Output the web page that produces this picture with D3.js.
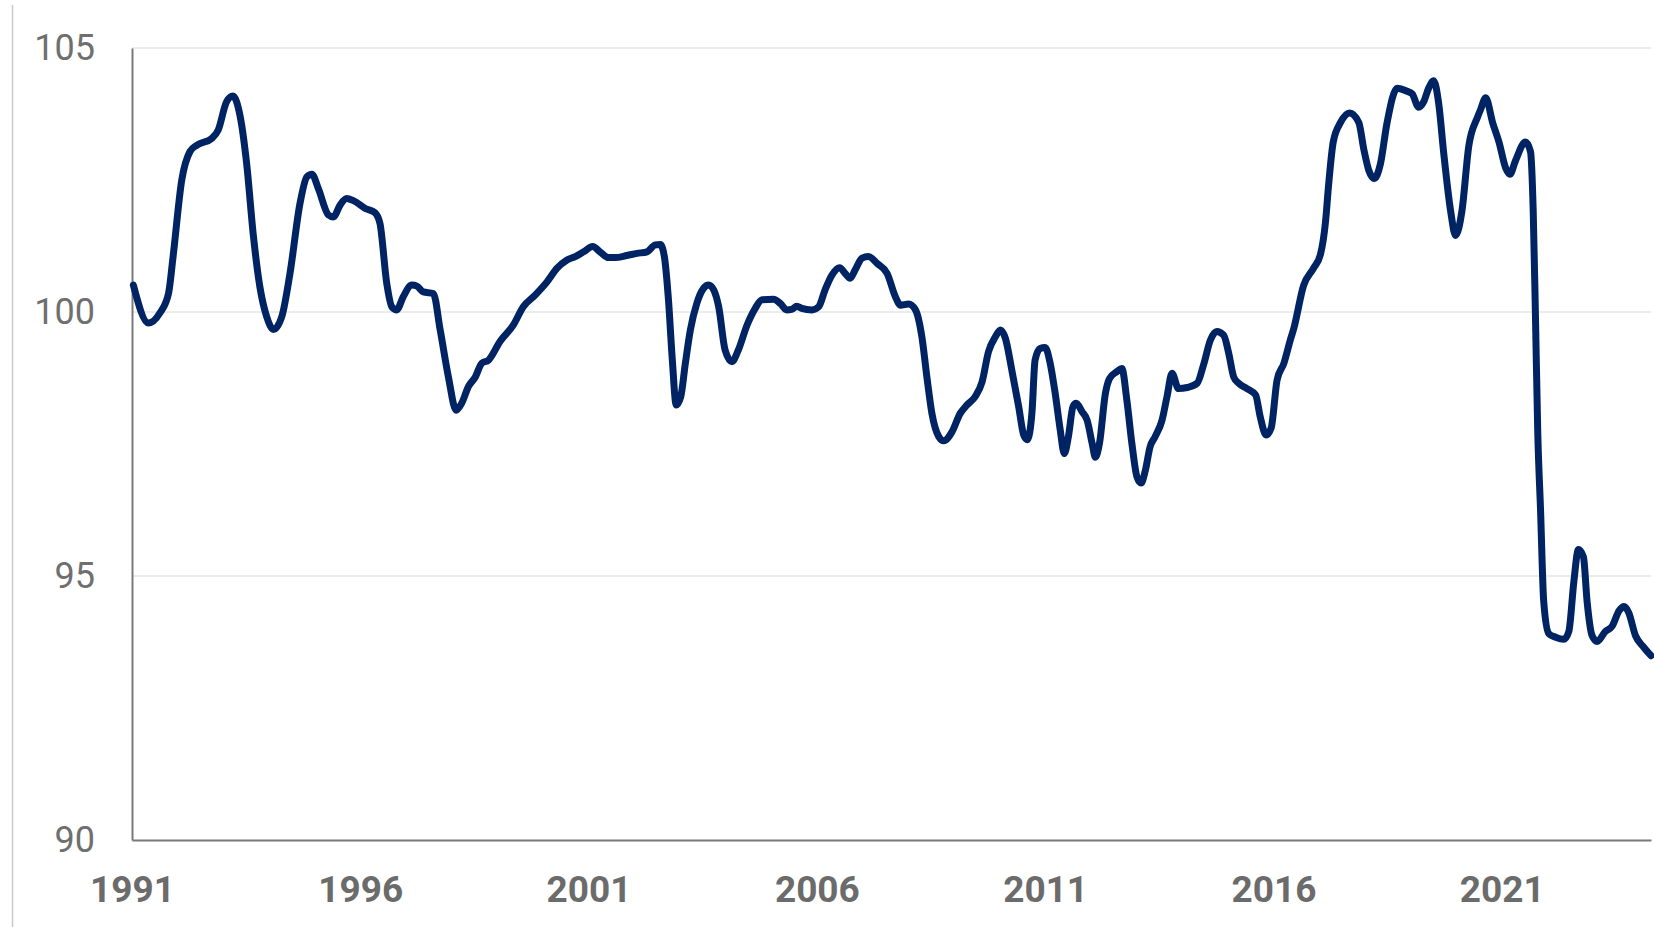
<!DOCTYPE html>
<html>
<head>
<meta charset="utf-8">
<script src="https://cdn.jsdelivr.net/npm/d3@7"></script>
<style>
  html, body { margin: 0; padding: 0; background: #fff; }
  svg { display: block; }
</style>
</head>
<body>
<div id="chart"></div>
<script>
// series (decimal year, index value)
const years = [
  1991.03, 1991.36, 1991.61, 1991.80, 1991.90, 1992.09, 1992.27, 1992.42, 1992.75, 1992.89,
  1993.07, 1993.21, 1993.37, 1993.51, 1993.66, 1993.80, 1993.95, 1994.10, 1994.28, 1994.46,
  1994.68, 1994.83, 1994.94, 1995.08, 1995.30, 1995.41, 1995.56, 1995.70, 1995.85, 1996.11,
  1996.32, 1996.43, 1996.58, 1996.69, 1996.80, 1996.94, 1997.13, 1997.24, 1997.38, 1997.60,
  1997.75, 1997.93, 1998.10, 1998.22, 1998.37, 1998.52, 1998.66, 1998.81, 1999.06, 1999.35,
  1999.57, 1999.83, 2000.09, 2000.31, 2000.52, 2000.71, 2000.89, 2001.09, 2001.25, 2001.44,
  2001.58, 2001.84, 2002.06, 2002.28, 2002.46, 2002.57, 2002.66, 2002.75, 2002.83, 2002.92,
  2003.02, 2003.12, 2003.23, 2003.37, 2003.52, 2003.63, 2003.74, 2003.85, 2003.99, 2004.14,
  2004.28, 2004.47, 2004.65, 2004.80, 2005.05, 2005.20, 2005.34, 2005.45, 2005.56, 2005.67,
  2005.89, 2006.04, 2006.18, 2006.33, 2006.50, 2006.62, 2006.73, 2006.84, 2006.99, 2007.13,
  2007.32, 2007.54, 2007.72, 2007.83, 2008.01, 2008.16, 2008.30, 2008.41, 2008.52, 2008.67,
  2008.78, 2008.96, 2009.14, 2009.29, 2009.47, 2009.62, 2009.76, 2009.91, 2010.02, 2010.13,
  2010.27, 2010.42, 2010.53, 2010.61, 2010.71, 2010.78, 2010.89, 2011.00, 2011.11, 2011.22,
  2011.33, 2011.42, 2011.51, 2011.61, 2011.68, 2011.81, 2011.92, 2012.03, 2012.10, 2012.19,
  2012.32, 2012.41, 2012.57, 2012.68, 2012.79, 2012.90, 2013.01, 2013.10, 2013.19, 2013.30,
  2013.41, 2013.56, 2013.67, 2013.78, 2013.92, 2014.11, 2014.33, 2014.47, 2014.62, 2014.76,
  2014.91, 2015.02, 2015.13, 2015.24, 2015.42, 2015.61, 2015.71, 2015.84, 2015.95, 2016.08,
  2016.23, 2016.37, 2016.45, 2016.66, 2016.88, 2017.03, 2017.14, 2017.21, 2017.31, 2017.47,
  2017.67, 2017.87, 2017.98, 2018.09, 2018.21, 2018.34, 2018.49, 2018.71, 2018.93, 2019.04,
  2019.18, 2019.29, 2019.40, 2019.51, 2019.62, 2019.73, 2019.88, 2019.99, 2020.13, 2020.28,
  2020.47, 2020.54, 2020.65, 2020.80, 2020.94, 2021.09, 2021.18, 2021.30, 2021.52, 2021.63,
  2021.69, 2021.74, 2021.79, 2021.85, 2021.92, 2022.03, 2022.18, 2022.36, 2022.47, 2022.58,
  2022.68, 2022.79, 2022.87, 2022.98, 2023.09, 2023.27, 2023.42, 2023.57, 2023.68, 2023.78,
  2023.93, 2024.11, 2024.27
];
const values = [
  100.51, 99.79, 99.98, 100.35, 101.05, 102.50, 103.04, 103.16, 103.29, 103.45,
  103.98, 104.09, 103.70, 102.82, 101.43, 100.48, 99.91, 99.67, 99.91, 100.73,
  102.06, 102.56, 102.61, 102.34, 101.84, 101.80, 102.03, 102.15, 102.11, 101.96,
  101.88, 101.68, 100.54, 100.10, 100.04, 100.29, 100.51, 100.49, 100.38, 100.35,
  99.66, 98.77, 98.14, 98.27, 98.59, 98.77, 99.03, 99.09, 99.44, 99.75,
  100.10, 100.32, 100.57, 100.83, 100.98, 101.05, 101.14, 101.24, 101.14, 101.03,
  101.03, 101.07, 101.11, 101.14, 101.27, 101.28, 101.05, 100.23, 99.15, 98.24,
  98.40, 99.03, 99.66, 100.16, 100.45, 100.51, 100.42, 100.10, 99.28, 99.06,
  99.28, 99.75, 100.07, 100.23, 100.24, 100.16, 100.04, 100.05, 100.11, 100.07,
  100.04, 100.10, 100.42, 100.70, 100.84, 100.73, 100.64, 100.80, 101.02, 101.05,
  100.92, 100.73, 100.29, 100.13, 100.15, 100.04, 99.53, 98.77, 98.08, 97.64,
  97.56, 97.73, 98.08, 98.24, 98.40, 98.68, 99.25, 99.53, 99.66, 99.50,
  98.90, 98.21, 97.67, 97.58, 98.08, 99.09, 99.31, 99.33, 99.03, 98.46,
  97.77, 97.32, 97.64, 98.21, 98.27, 98.11, 97.95, 97.51, 97.25, 97.51,
  98.46, 98.74, 98.87, 98.93, 98.33, 97.51, 96.88, 96.76, 96.98, 97.45,
  97.64, 97.95, 98.40, 98.84, 98.55, 98.57, 98.65, 99.00, 99.47, 99.63,
  99.56, 99.22, 98.77, 98.65, 98.55, 98.43, 98.02, 97.67, 97.80, 98.71,
  99.03, 99.47, 99.70, 100.50, 100.83, 101.09, 101.70, 102.42, 103.22, 103.59,
  103.77, 103.59, 103.08, 102.68, 102.53, 102.79, 103.59, 104.24, 104.18, 104.13,
  103.88, 103.98, 104.24, 104.38, 103.95, 103.01, 101.92, 101.45, 101.92, 103.15,
  103.69, 103.84, 104.06, 103.59, 103.22, 102.72, 102.61, 102.86, 103.22, 103.04,
  101.92, 99.89, 97.71, 96.27, 94.52, 93.91, 93.84, 93.80, 93.95, 94.89,
  95.50, 95.36, 94.52, 93.87, 93.76, 93.95, 94.05, 94.34, 94.42, 94.31,
  93.87, 93.65, 93.49
];
const yTicks = [90, 95, 100, 105];
const xTicks = [1991, 1996, 2001, 2006, 2011, 2016, 2021];

const data = years.map((t, i) => ({ t: t, v: values[i] }));

const width = 1654;
const height = 927;
const margin = ({ top: 48, right: 3, bottom: 87, left: 132 });

const x = d3.scaleLinear()
    .domain([1991, 2024.27])
    .range([margin.left, width - margin.right]);

const y = d3.scaleLinear()
    .domain([90, 105])
    .range([height - margin.bottom, margin.top]);

const svg = d3.select("#chart")
    .append("svg")
    .attr("width", width)
    .attr("height", height);

// thin frame line at the far left
svg.append("line")
    .attr("x1", 12.5).attr("x2", 12.5)
    .attr("y1", 5).attr("y2", height)
    .attr("stroke", "#c8c8c8")
    .attr("stroke-width", 1.5);

// gridlines
svg.append("g")
    .selectAll("line")
    .data(yTicks.filter(d => d > 90))
    .join("line")
      .attr("x1", x(1991))
      .attr("x2", width - margin.right)
      .attr("y1", d => y(d))
      .attr("y2", d => y(d))
      .attr("stroke", "#ececec")
      .attr("stroke-width", 2);

// y axis
const yAxis = g => g
    .attr("transform", `translate(${margin.left},0)`)
    .call(d3.axisLeft(y).tickValues(yTicks).tickSize(0).tickPadding(37))
    .call(g => g.select(".domain").attr("stroke", "#7a7a7a").attr("stroke-width", 2))
    .call(g => g.selectAll("text")
        .style("font", "36px Roboto, sans-serif")
        .attr("fill", "#6f6f6f"));

// x axis
const xAxis = g => g
    .attr("transform", `translate(0,${height - margin.bottom})`)
    .call(d3.axisBottom(x).tickValues(xTicks).tickFormat(d3.format("d")).tickSize(0).tickPadding(36))
    .call(g => g.select(".domain").attr("stroke", "#7a7a7a").attr("stroke-width", 2))
    .call(g => g.selectAll("text")
        .style("font", "bold 37px Roboto, sans-serif")
        .attr("fill", "#6b6b6b"));

svg.append("g").call(yAxis);
svg.append("g").call(xAxis);

const line = d3.line()
    .x(d => x(d.t))
    .y(d => y(d.v))
    .curve(d3.curveMonotoneX);

svg.append("path")
    .datum(data)
    .attr("fill", "none")
    .attr("stroke", "#002463")
    .attr("stroke-width", 7)
    .attr("stroke-linejoin", "round")
    .attr("stroke-linecap", "round")
    .attr("d", line);
</script>
</body>
</html>
